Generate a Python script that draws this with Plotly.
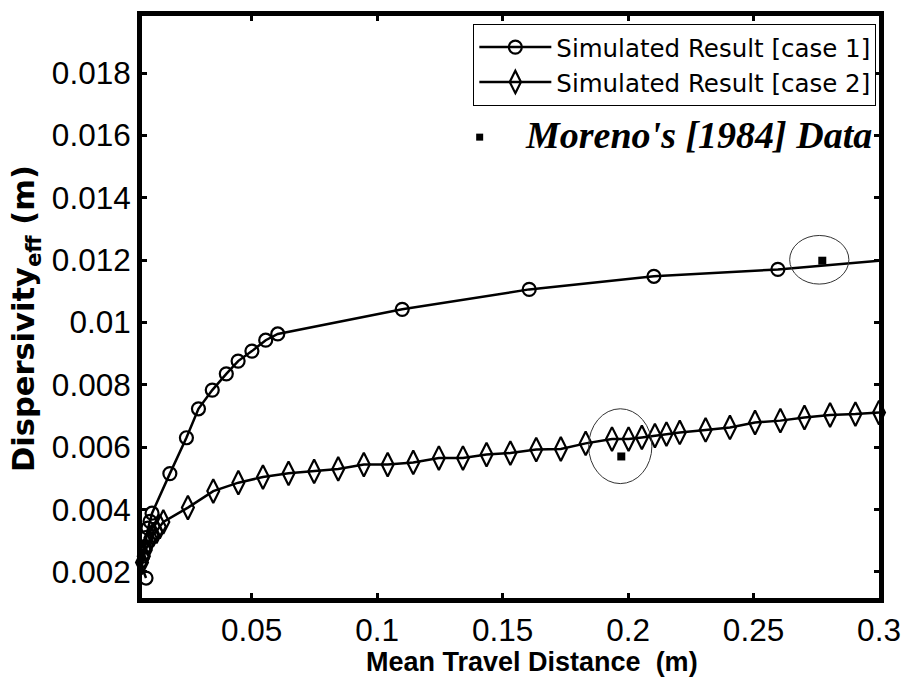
import plotly.graph_objects as go

# ---- data ----
case1_x = [0.0079, 0.0061, 0.0066, 0.0072, 0.0079, 0.0087, 0.0095, 0.0103,
           0.0174, 0.0240, 0.0288, 0.0343, 0.0399, 0.0446, 0.0501, 0.0556,
           0.0604, 0.1100, 0.1606, 0.2103, 0.2597, 0.3100]
case1_y = [0.00180, 0.00220, 0.00250, 0.00280, 0.00310, 0.00340, 0.00362, 0.00388,
           0.00515, 0.00630, 0.00723, 0.00783, 0.00835, 0.00876, 0.00908, 0.00943,
           0.00963, 0.01042, 0.01106, 0.01148, 0.01170, 0.01205]

case2_x = [0.0057, 0.0063, 0.0070, 0.0078, 0.0087, 0.0097, 0.0108, 0.0121, 0.0134, 0.0148,
           0.0246, 0.0347, 0.0447, 0.0545, 0.0647, 0.0749, 0.0845, 0.0947, 0.1042, 0.1144,
           0.1246, 0.1342, 0.1436, 0.1531, 0.1634, 0.1732, 0.1831, 0.1936, 0.2002, 0.2055,
           0.2107, 0.2153, 0.2206, 0.2309, 0.2406, 0.2506, 0.2607, 0.2703, 0.2805, 0.2906,
           0.3000]
case2_y = [0.00200, 0.00230, 0.00250, 0.00270, 0.00290, 0.00310, 0.00320, 0.00330, 0.00345, 0.00360,
           0.00406, 0.00459, 0.00486, 0.00504, 0.00516, 0.00522, 0.00530, 0.00544, 0.00544, 0.00551,
           0.00565, 0.00565, 0.00576, 0.00581, 0.00592, 0.00594, 0.00612, 0.00626, 0.00626, 0.00631,
           0.00637, 0.00642, 0.00647, 0.00655, 0.00663, 0.00679, 0.00685, 0.00695, 0.00703, 0.00706,
           0.00711]

moreno_x = [0.2774, 0.1973]
moreno_y = [0.01198, 0.00570]

# highlight ellipses around Moreno data (centre, half-width, half-height in data units)
ring_cx = [0.2762, 0.1969]
ring_cy = [0.01201, 0.00603]
ring_rx = [0.0118, 0.0126]
ring_ry = [0.00078, 0.00120]

x_tickvals = [0.05, 0.1, 0.15, 0.2, 0.25, 0.3]
x_ticktext = ["0.05", "0.1", "0.15", "0.2", "0.25", "0.3"]
y_tickvals = [0.002, 0.004, 0.006, 0.008, 0.010, 0.012, 0.014, 0.016, 0.018]
y_ticktext = ["0.002", "0.004", "0.006", "0.008", "0.01", "0.012", "0.014", "0.016", "0.018"]

SANS = "Liberation Sans, Arial, sans-serif"
WIDE = "DejaVu Sans, Verdana, sans-serif"
SERIF = "Liberation Serif, Times New Roman, serif"

W, H = 912, 678
SX, SY = 0.996, 0.996   # small scale observed between page and final picture


def dx(p):
    """page pixel column for a target column in the final picture"""
    return p / SX


def dy(p):
    """page pixel row for a target row in the final picture"""
    return H - (H - p) / SY


L = dx(141.7)
R = W - dx(887.7)
T = dy(13.3)
B = H - dy(598.0)
pw, ph = W - L - R, H - T - B


def px_x(p):
    return (dx(p) - L) / pw


def px_y(p):
    return (H - B - dy(p)) / ph


fig = go.Figure()
fig.add_trace(go.Scatter(
    x=case1_x, y=case1_y, mode="lines+markers", name="Simulated Result [case 1]",
    line=dict(color="black", width=2.5),
    marker=dict(symbol="circle-open", size=13, color="black", line=dict(width=2.2)),
    cliponaxis=True))
fig.add_trace(go.Scatter(
    x=case2_x, y=case2_y, mode="lines+markers", name="Simulated Result [case 2]",
    line=dict(color="black", width=2.5),
    marker=dict(symbol="diamond-tall-open", size=17, color="black", line=dict(width=2.2)),
    cliponaxis=False))
fig.add_trace(go.Scatter(
    x=moreno_x, y=moreno_y, mode="markers", name="Moreno's [1984] Data",
    marker=dict(symbol="square", size=8, color="black"), showlegend=False))

for cx, cy, rx, ry in zip(ring_cx, ring_cy, ring_rx, ring_ry):
    fig.add_shape(type="circle", xref="x", yref="y",
                  x0=cx - rx, x1=cx + rx, y0=cy - ry, y1=cy + ry,
                  line=dict(color="#333333", width=1))

# Moreno label (marker + bold italic serif text)
fig.add_shape(type="rect", xref="paper", yref="paper",
              xsizemode="pixel", ysizemode="pixel",
              xanchor=px_x(483.5), yanchor=px_y(135),
              x0=-3.5, x1=3.5, y0=-3.5, y1=3.5,
              fillcolor="black", line=dict(width=0))
fig.add_annotation(x=px_x(527), y=px_y(133), xref="paper", yref="paper",
                   xanchor="left", yanchor="middle", showarrow=False,
                   text="<b><i>Moreno's [1984] Data</i></b>",
                   font=dict(family=SERIF, size=38, color="black"))

# axis titles
fig.add_annotation(x=px_x(536), y=px_y(662), xref="paper", yref="paper",
                   xanchor="center", yanchor="middle", showarrow=False,
                   text="<b>Mean Travel Distance&nbsp; (m)</b>",
                   font=dict(family=SANS, size=27, color="black"))
fig.add_annotation(x=px_x(24), y=px_y(317), xref="paper", yref="paper",
                   xanchor="center", yanchor="middle", showarrow=False, textangle=-90,
                   text="<b>Dispersivity<sub>eff</sub> (m)</b>",
                   font=dict(family=WIDE, size=30.5, color="black"))

axis_common = dict(showline=True, linecolor="black", linewidth=5, mirror="ticks",
                   ticks="inside", ticklen=5, tickwidth=3, tickcolor="black",
                   showgrid=False, zeroline=False,
                   tickfont=dict(family=SANS, size=31.5, color="black"))

fig.update_xaxes(range=[0.0063, 0.3], tickvals=x_tickvals, ticktext=x_ticktext,
                 ticklabeloverflow="allow", **axis_common)
fig.update_yaxes(range=[0.00116, 0.01983], tickvals=y_tickvals, ticktext=y_ticktext,
                 **axis_common)

fig.update_layout(
    width=W, height=H,
    margin=dict(l=L, r=R, t=T, b=B),
    paper_bgcolor="white", plot_bgcolor="white",
    showlegend=True,
    legend=dict(x=px_x(885), y=px_y(21), xanchor="right", yanchor="top",
                bgcolor="white", bordercolor="black", borderwidth=1,
                font=dict(family=WIDE, size=24.5, color="black"),
                itemwidth=72, tracegroupgap=0),
)

fig.write_html(
    "out.html",
    config={"displayModeBar": False},
    post_script="document.documentElement.style.margin='0';"
                "document.documentElement.style.overflow='hidden';"
                "document.body.style.margin='0';document.body.style.padding='0';"
                "document.body.style.overflow='hidden';",
)
